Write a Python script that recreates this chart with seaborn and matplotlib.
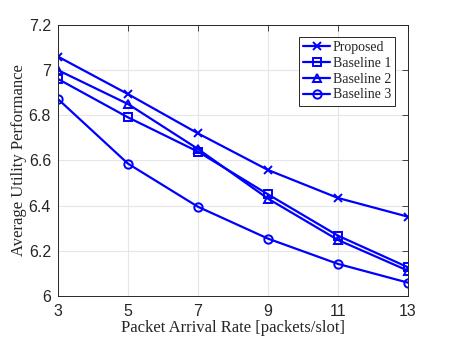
import matplotlib
matplotlib.use("Agg")
import matplotlib.pyplot as plt
import seaborn as sns
import pandas as pd

rates = [3, 5, 7, 9, 11, 13]
proposed = [7.06, 6.894, 6.72, 6.558, 6.434, 6.351]
baseline1 = [6.961, 6.791, 6.639, 6.45, 6.267, 6.127]
baseline2 = [7.0, 6.85, 6.651, 6.431, 6.248, 6.112]
baseline3 = [6.872, 6.586, 6.395, 6.254, 6.142, 6.059]
series_names = ["Proposed", "Baseline 1", "Baseline 2", "Baseline 3"]
yticks = [6, 6.2, 6.4, 6.6, 6.8, 7, 7.2]
yticklabels = ["6", "6.2", "6.4", "6.6", "6.8", "7", "7.2"]

sns.set_style("white")
plt.rcParams['font.family'] = ['Liberation Sans', 'DejaVu Sans']

frames = []
for name, vals in zip(series_names, [proposed, baseline1, baseline2, baseline3]):
    frames.append(pd.DataFrame({"rate": rates, "value": vals, "series": name}))
df = pd.concat(frames, ignore_index=True)

fig = plt.figure(figsize=(4.51, 3.38), dpi=100)
ax = fig.add_axes([0.1286, 0.1243, 0.7761, 0.8017])

markers = {"Proposed": "x", "Baseline 1": "s", "Baseline 2": "^", "Baseline 3": "o"}
blue = (0, 0, 1)
for name in series_names:
    sub = df[df["series"] == name]
    m = markers[name]
    kw = dict(marker=m, markersize=6, markeredgewidth=1.4,
              color=blue, linewidth=1.6, label=name)
    if m != "x":
        kw["markerfacecolor"] = "none"
    kw["markeredgecolor"] = blue
    sns.lineplot(data=sub, x="rate", y="value", ax=ax, **kw)

ax.set_xlim(3, 13)
ax.set_ylim(6, 7.2)
ax.set_xticks(rates)
ax.set_xticklabels([str(r) for r in rates], fontsize=11.5)
ax.set_yticks(yticks)
ax.set_yticklabels(yticklabels, fontsize=11.5)
ax.grid(True, color="#e6e6e6", linewidth=0.8)
ax.tick_params(direction="in", length=4, width=0.6, color="#262626",
               top=True, right=True, labelcolor="#262626")
ax.tick_params(axis="x", pad=6)
ax.tick_params(axis="y", pad=5)
for s in ax.spines.values():
    s.set_color("#262626")
    s.set_linewidth(0.7)

ax.set_xlabel("Packet Arrival Rate [packets/slot]", family=["Liberation Serif", "DejaVu Serif"],
              fontsize=12, color="#262626")
ax.set_ylabel("Average Utility Performance", family=["Liberation Serif", "DejaVu Serif"],
              fontsize=12, color="#262626")
ax.xaxis.set_label_coords(0.5, -0.09)
ax.yaxis.set_label_coords(-0.089, 0.5)

leg = ax.legend(loc="upper right", bbox_to_anchor=(0.963, 0.956),
                prop={"family": ["Liberation Serif", "DejaVu Serif"], "size": 10},
                frameon=True, fancybox=False, edgecolor="#262626", framealpha=1,
                handlelength=1.9, handletextpad=0.2, labelspacing=0.2, borderpad=0.3,
                borderaxespad=0)
leg.get_frame().set_linewidth(0.7)

fig.savefig("out.png", dpi=100)
